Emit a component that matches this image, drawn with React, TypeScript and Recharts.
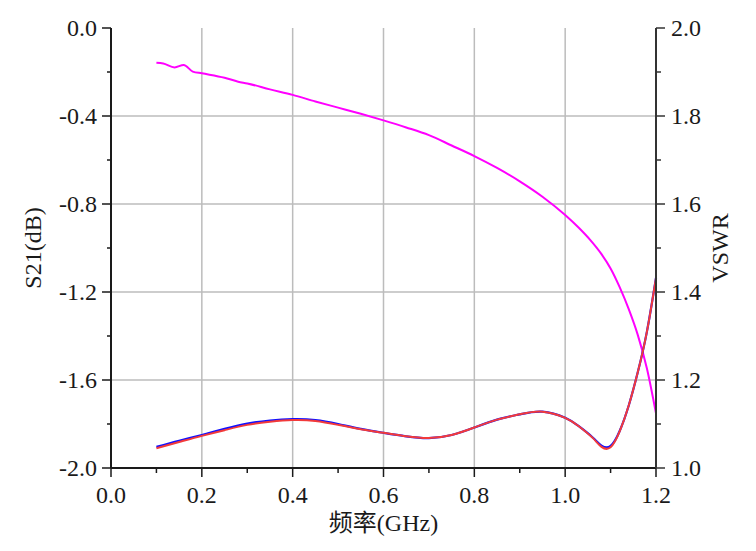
import { CartesianGrid, Label, Line, LineChart, XAxis, YAxis } from "recharts";

// S21 (left axis), sampled frequencies in GHz
const s21Freq = [
  0.1, 0.115, 0.14, 0.16, 0.18, 0.2, 0.25, 0.28, 0.3, 0.35, 0.4, 0.45, 0.5, 0.55, 0.6, 0.65,
  0.7, 0.75, 0.8, 0.85, 0.9, 0.95, 1.0, 1.03, 1.055, 1.08, 1.1, 1.12, 1.14, 1.16, 1.18, 1.2,
];
const s21Values = [
  -0.158, -0.161, -0.179, -0.168, -0.198, -0.206, -0.226, -0.244, -0.252, -0.279, -0.304, -0.334,
  -0.362, -0.39, -0.42, -0.452, -0.487, -0.534, -0.582, -0.636, -0.697, -0.767, -0.85, -0.908,
  -0.963, -1.028, -1.093, -1.178, -1.278, -1.396, -1.548, -1.752,
];

// VSWR (right axis)
const vswrFreq = [
  0.1, 0.15, 0.2, 0.25, 0.3, 0.35, 0.4, 0.45, 0.5, 0.55, 0.6, 0.65, 0.7, 0.75, 0.8, 0.85, 0.9,
  0.95, 1.0, 1.03, 1.06, 1.08, 1.1, 1.12, 1.14, 1.16, 1.18, 1.2,
];
const vswrBlue = [
  1.048, 1.062, 1.075, 1.089, 1.101, 1.108, 1.111, 1.109, 1.1, 1.089, 1.08, 1.072, 1.068, 1.075,
  1.092, 1.11, 1.122, 1.128, 1.114, 1.095, 1.07, 1.051, 1.05, 1.084, 1.142, 1.218, 1.31, 1.432,
];
const vswrRed = [
  1.045, 1.059, 1.073, 1.086, 1.098, 1.105, 1.109, 1.107, 1.098, 1.088, 1.08, 1.072, 1.068, 1.075,
  1.092, 1.11, 1.122, 1.128, 1.114, 1.095, 1.069, 1.048, 1.047, 1.083, 1.142, 1.218, 1.31, 1.432,
];

const xTicks = [0, 0.1, 0.2, 0.3, 0.4, 0.5, 0.6, 0.7, 0.8, 0.9, 1.0, 1.1, 1.2];
const leftTicks = [-2, -1.8, -1.6, -1.4, -1.2, -1, -0.8, -0.6, -0.4, -0.2, 0];
const rightTicks = [1, 1.1, 1.2, 1.3, 1.4, 1.5, 1.6, 1.7, 1.8, 1.9, 2];
const xGrid = [0.2, 0.4, 0.6, 0.8, 1.0];
const yGrid = [1.2, 1.4, 1.6, 1.8];

const s21Data = s21Freq.map((f, i) => ({ f, v: s21Values[i] }));
const blueData = vswrFreq.map((f, i) => ({ f, v: vswrBlue[i] }));
const redData = vswrFreq.map((f, i) => ({ f, v: vswrRed[i] }));

const FONT = "'Liberation Serif', 'Times New Roman', 'Noto Sans CJK SC', serif";
const INK = "#1a1a1a";
const GRID = "#bcbcbc";

const isMajor = (v: number, step: number) => Math.abs(Math.round(v * 10) % Math.round(step * 10)) === 0;

function BottomTick({ x, y, payload }: any) {
  const major = isMajor(payload.value, 0.2);
  return (
    <g>
      <line x1={x} x2={x} y1={y} y2={y + (major ? 9 : 5)} stroke={INK} strokeWidth={1.5} />
      {major && (
        <text x={x} y={y + 35} textAnchor="middle" fontSize={24} fontFamily={FONT} fill={INK}>
          {payload.value.toFixed(1)}
        </text>
      )}
    </g>
  );
}

function TopTick({ x, y }: any) {
  return <line x1={x} x2={x} y1={y} y2={y + 4} stroke={INK} strokeWidth={1.5} />;
}

function LeftTick({ x, y, payload }: any) {
  const major = isMajor(payload.value, 0.4);
  return (
    <g>
      <line x1={x - (major ? 9 : 4)} x2={x} y1={y} y2={y} stroke={INK} strokeWidth={1.5} />
      {major && (
        <text x={x - 14} y={y + 8} textAnchor="end" fontSize={24} fontFamily={FONT} fill={INK}>
          {payload.value.toFixed(1)}
        </text>
      )}
    </g>
  );
}

function RightTick({ x, y, payload }: any) {
  const major = isMajor(payload.value, 0.2);
  return (
    <g>
      <line x1={x} x2={x + (major ? 9 : 5)} y1={y} y2={y} stroke="#333" strokeWidth={1.5} />
      {major && (
        <text x={x + 15} y={y + 8} textAnchor="start" fontSize={24} fontFamily={FONT} fill={INK}>
          {payload.value.toFixed(1)}
        </text>
      )}
    </g>
  );
}

function verticalTitle(text: string, dx: number) {
  return ({ viewBox }: any) => {
    const cx = viewBox.x + dx;
    const cy = viewBox.y + viewBox.height / 2;
    return (
      <text
        x={cx}
        y={cy}
        transform={`rotate(-90, ${cx}, ${cy})`}
        textAnchor="middle"
        dominantBaseline="central"
        fontSize={24}
        fontFamily={FONT}
        fill={INK}
      >
        {text}
      </text>
    );
  };
}

function bottomTitle({ viewBox }: any) {
  return (
    <text
      x={viewBox.x + viewBox.width / 2}
      y={viewBox.y + 63}
      textAnchor="middle"
      fontSize={24}
      fontFamily={FONT}
      fill={INK}
    >
      频率(GHz)
    </text>
  );
}

export default function App() {
  return (
    <div style={{ width: 748, height: 543 }}>
      <LineChart width={748} height={543} margin={{ top: 20, right: 0, bottom: 0, left: 0 }}>
        <CartesianGrid
          xAxisId="bottom"
          yAxisId="right"
          verticalValues={xGrid}
          horizontalValues={yGrid}
          stroke={GRID}
          strokeWidth={1.5}
        />
        <XAxis
          xAxisId="bottom"
          dataKey="f"
          type="number"
          domain={[0, 1.2]}
          ticks={xTicks}
          interval={0}
          height={83}
          tickSize={0}
          tickMargin={0}
          tickLine={false}
          tick={<BottomTick />}
          axisLine={{ stroke: INK, strokeWidth: 1.8 }}
        >
          <Label content={bottomTitle} />
        </XAxis>
        <XAxis
          xAxisId="top"
          orientation="top"
          dataKey="f"
          type="number"
          domain={[0, 1.2]}
          ticks={xTicks}
          interval={0}
          height={0}
          tickSize={0}
          tickMargin={0}
          tickLine={false}
          tick={<TopTick />}
          axisLine={{ stroke: INK, strokeWidth: 1.8 }}
        />
        <YAxis
          yAxisId="left"
          type="number"
          domain={[-2, 0]}
          ticks={leftTicks}
          interval={0}
          width={103}
          tickSize={0}
          tickMargin={0}
          tickLine={false}
          tick={<LeftTick />}
          axisLine={{ stroke: INK, strokeWidth: 2 }}
        >
          <Label content={verticalTitle("S21(dB)", 25)} />
        </YAxis>
        <YAxis
          yAxisId="right"
          orientation="right"
          type="number"
          domain={[1, 2]}
          ticks={rightTicks}
          interval={0}
          width={100}
          tickSize={0}
          tickMargin={0}
          tickLine={false}
          tick={<RightTick />}
          axisLine={{ stroke: "#333", strokeWidth: 2 }}
        >
          <Label content={verticalTitle("VSWR", 64)} />
        </YAxis>
        <Line
          xAxisId="bottom"
          yAxisId="left"
          data={s21Data}
          dataKey="v"
          type="monotone"
          stroke="#ff00ff"
          strokeWidth={2}
          dot={false}
          isAnimationActive={false}
        />
        <Line
          xAxisId="bottom"
          yAxisId="right"
          data={blueData}
          dataKey="v"
          type="natural"
          stroke="#1010ff"
          strokeWidth={2.2}
          dot={false}
          isAnimationActive={false}
        />
        <Line
          xAxisId="bottom"
          yAxisId="right"
          data={redData}
          dataKey="v"
          type="natural"
          stroke="#f23a3a"
          strokeWidth={2}
          dot={false}
          isAnimationActive={false}
        />
      </LineChart>
    </div>
  );
}
